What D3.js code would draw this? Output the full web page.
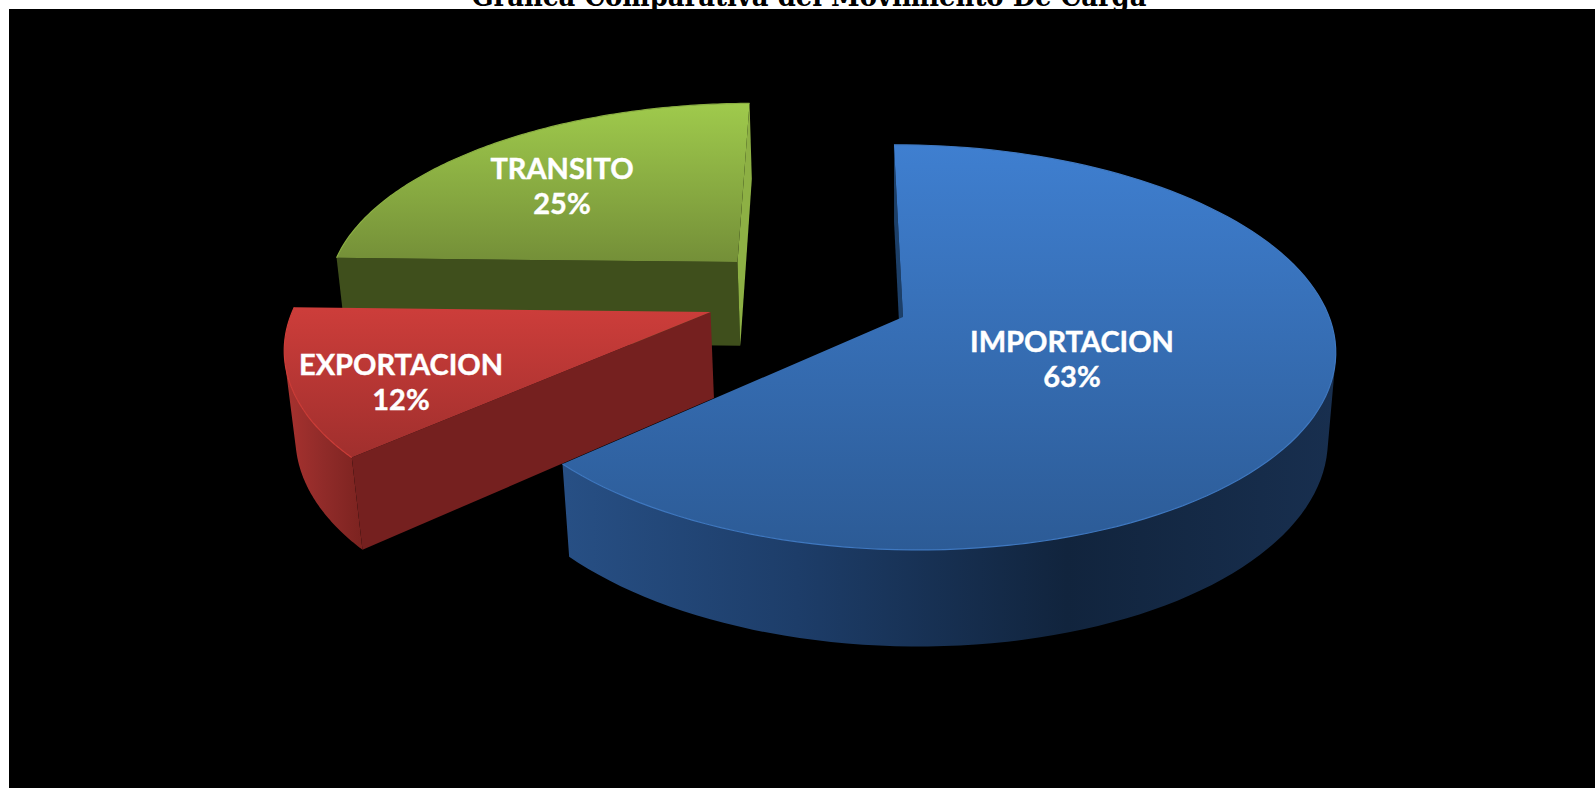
<!DOCTYPE html>
<html><head><meta charset="utf-8">
<script src="https://cdn.jsdelivr.net/npm/d3@7"></script>
<style>html,body{margin:0;padding:0;background:#fff;overflow:hidden}svg{display:block}</style>
</head><body><svg id="c" width="1595" height="788"></svg>
<script>
const categories = ["IMPORTACION","EXPORTACION","TRANSITO"];
const values = [63.3,12.1,24.6];
const chartTitle = "Grafica Comparativa del Movimiento De Carga";

const W=1595,H=788;
const svg=d3.select("#c");
const defs=svg.append("defs");
svg.append("text").text(chartTitle).attr("x",809).attr("y",6).attr("text-anchor","middle")
  .attr("font-family","'DejaVu Serif','Liberation Serif',serif").attr("font-weight","bold")
  .attr("font-size",27).attr("textLength",675).attr("lengthAdjust","spacingAndGlyphs").attr("fill","#000");
svg.append("rect").attr("x",9).attr("y",9).attr("width",W-9).attr("height",H-9).attr("fill","#000");

// projection of the flat pie into the 3D view
const P={X0:903,Y0:317,a:424,s:10.4,b:198,k:0.15,n:0.005,m:0.018,d:88};
function proj(u,v,h){const w=1-P.k*v-P.n*u+P.m*h;return [P.X0+(P.a*u+P.s*v)/w,P.Y0+(P.b*v+P.d*h)/w];}

const style={
 IMPORTACION:{off:[0,0],top:["#3f7fd0","#2c5b96"],y:[145,550],wall:[[0,"#274f84"],[.3,"#1d3d69"],[.65,"#11243d"],[1,"#182f4f"]],wx:[567,1336],rim:"#3f78c0",start:"#1c3f68",end:"#1c3f68",tx:1072,ty:[352,387]},
 TRANSITO:{off:[-0.401,-0.29],top:["#9fca4c","#748f38"],y:[104,262],wall:[[0,"#3f4f1c"],[1,"#3f4f1c"]],wx:[330,750],rim:"#8aae42",start:"#3f4f1c",end:"#8db044",tx:562,ty:[179,214]},
 EXPORTACION:{off:[-0.456,-0.025],top:["#cc3d3a","#a02f2d"],y:[310,458],wall:[[0,"#a8322f"],[.5,"#902b29"],[1,"#7c2320"]],wx:[285,362],rim:"#cc3d38",start:"#75201f",end:"#75201f",tx:401,ty:[375,410]}
};

const pie=d3.pie().sort(null).value(d=>d.v);
const arcs=pie(categories.map((c,i)=>({c,v:values[i]})));
const line=d3.line();
function rimPts(d,h){const o=style[d.data.c].off,pts=[];const n=120;
  for(let i=0;i<=n;i++){const t=d.startAngle+(d.endAngle-d.startAngle)*i/n;pts.push(proj(o[0]+Math.sin(t),o[1]-Math.cos(t),h));}return pts;}

function grad(id,x1,y1,x2,y2,stops){const g=defs.append("linearGradient").attr("id",id).attr("gradientUnits","userSpaceOnUse")
  .attr("x1",x1).attr("y1",y1).attr("x2",x2).attr("y2",y2);
  stops.forEach(s=>g.append("stop").attr("offset",s[0]).attr("stop-color",s[1]));return `url(#${id})`;}

["TRANSITO","EXPORTACION","IMPORTACION"].forEach((name,ix)=>{
  const d=arcs.find(a=>a.data.c===name),st=style[name],o=st.off;
  const g=svg.append("g");
  const apex0=proj(o[0],o[1],0),apex1=proj(o[0],o[1],1);
  const top=rimPts(d,0),bot=rimPts(d,1);
  const fillWall=grad("w"+ix,st.wx[0],0,st.wx[1],0,st.wall);
  const fillTop=grad("t"+ix,0,st.y[0],0,st.y[1],[[0,st.top[0]],[1,st.top[1]]]);
  // curved wall: only the quads that face the viewer, joined into one path
  let dWall="";
  for(let i=0;i<top.length-1;i++){
    const q=[top[i],top[i+1],bot[i+1],bot[i]];
    if(d3.polygonArea(q)>0) dWall+=line(q)+"Z";
  }
  if(dWall) g.append("path").attr("d",dWall).attr("fill",fillWall);
  // radial walls, when facing the viewer
  const wStart=[apex0,top[0],bot[0],apex1],wEnd=[apex0,top[top.length-1],bot[bot.length-1],apex1];
  if(d3.polygonArea(wStart)>0) g.append("path").attr("d",line(wStart)+"Z").attr("fill",st.start);
  if(d3.polygonArea(wEnd)<0) g.append("path").attr("d",line(wEnd)+"Z").attr("fill",st.end);
  // top surface
  g.append("path").attr("d",line([apex0].concat(top))+"Z").attr("fill",fillTop);
  g.append("path").attr("d",line(top)).attr("fill","none").attr("stroke",st.rim).attr("stroke-width",1.2);
});
arcs.forEach(d=>{const st=style[d.data.c];
  const pct=Math.round(d.data.v/d3.sum(values)*100)+"%";
  [d.data.c,pct].forEach((t,i)=>svg.append("text").text(t).attr("x",st.tx).attr("y",st.ty[i])
    .attr("text-anchor","middle").attr("font-family","Lato,'Noto Sans',sans-serif").attr("font-weight",700)
    .attr("font-size",29).attr("fill","#fff").attr("stroke","#fff").attr("stroke-width",0.4));
});
</script></body></html>
